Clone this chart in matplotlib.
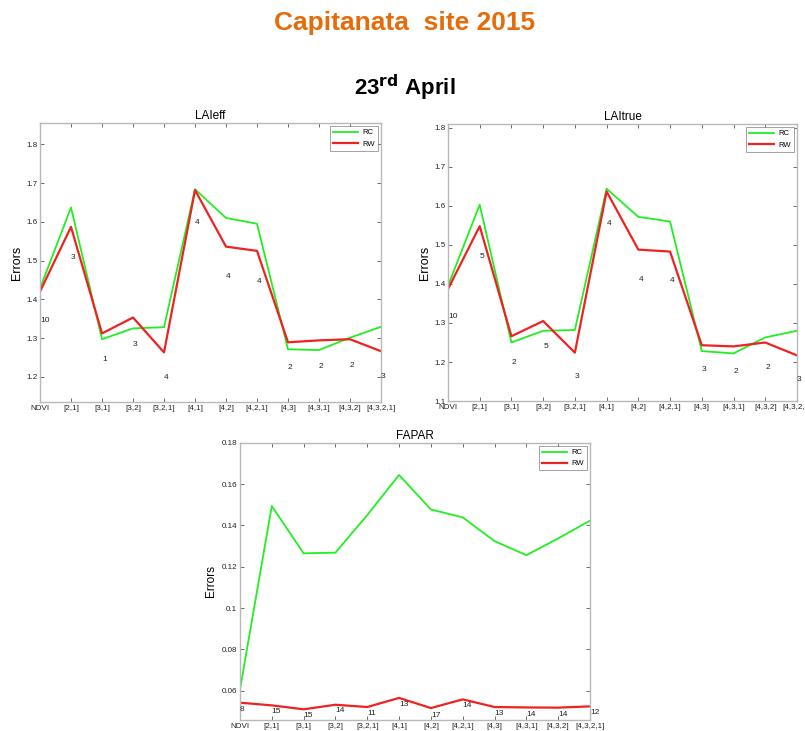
import matplotlib
matplotlib.use("Agg")
import matplotlib.pyplot as plt
import numpy as np

plt.rcParams['font.family'] = ['Liberation Sans', 'DejaVu Sans']

categories = ['NDVI', '[2,1]', '[3,1]', '[3,2]', '[3,2,1]', '[4,1]', '[4,2]',
              '[4,2,1]', '[4,3]', '[4,3,1]', '[4,3,2]', '[4,3,2,1]']

laieff_rc = [1.428, 1.637, 1.297, 1.325, 1.328, 1.684, 1.610, 1.595, 1.271, 1.269, 1.301, 1.329]
laieff_rw = [1.420, 1.587, 1.312, 1.353, 1.263, 1.682, 1.536, 1.525, 1.289, 1.294, 1.297, 1.266]
laieff_lbl = ['10', '3', '1', '3', '4', '4', '4', '4', '2', '2', '2', '3']
laieff_lbl_y = [1.346, 1.507, 1.245, 1.284, 1.198, 1.598, 1.458, 1.447, 1.223, 1.226, 1.230, 1.202]

laitrue_rc = [1.395, 1.603, 1.250, 1.280, 1.282, 1.644, 1.572, 1.560, 1.228, 1.222, 1.263, 1.280]
laitrue_rw = [1.387, 1.548, 1.266, 1.305, 1.224, 1.637, 1.488, 1.483, 1.243, 1.240, 1.250, 1.217]
laitrue_lbl = ['10', '5', '2', '5', '3', '4', '4', '4', '3', '2', '2', '3']
laitrue_lbl_y = [1.316, 1.470, 1.199, 1.239, 1.162, 1.554, 1.411, 1.408, 1.180, 1.176, 1.185, 1.156]

fapar_rc = [0.0606, 0.1494, 0.1265, 0.1268, 0.1450, 0.1644, 0.1477, 0.1439, 0.1324, 0.1256, 0.1337, 0.1423]
fapar_rw = [0.0542, 0.0529, 0.0510, 0.0532, 0.0521, 0.0565, 0.0516, 0.0558, 0.0521, 0.0519, 0.0518, 0.0524]
fapar_lbl = ['8', '15', '15', '14', '11', '13', '17', '14', '13', '14', '14', '12']
fapar_lbl_y = [0.0510, 0.0498, 0.0479, 0.0502, 0.0490, 0.0532, 0.0479, 0.0526, 0.0490, 0.0485, 0.0487, 0.0495]

GREEN = '#22ee22'
RED = '#ee2222'
SPINE = '#b8b8b8'

fig = plt.figure(figsize=(8.05, 7.31), dpi=100)
fig.text(0.503, 0.968, 'Capitanata  site 2015', ha='center', va='center',
         fontsize=19, fontweight='bold', color='#E46C0A')
fig.text(0.503, 0.880, r'23$^{\mathbf{rd}}$ April', ha='center', va='center',
         fontsize=16, fontweight='bold', color='black')


def panel(rect, title, rc, rw, lbl, lbl_y, ylim, yticks, ylsize, ylpad):
    ax = fig.add_axes(rect)
    x = np.arange(len(categories))
    ax.plot(x, rc, color=GREEN, lw=1.3, label='RC')
    ax.plot(x, rw, color=RED, lw=1.6, label='RW')
    for xi, t, yv in zip(x, lbl, lbl_y):
        ax.text(xi, yv, t, ha='left', va='center', fontsize=6, color='#222222')
    ax.set_xlim(0, len(categories) - 1)
    ax.set_ylim(*ylim)
    ax.set_xticks(x)
    ax.set_xticklabels(categories, fontsize=5.8, color='#222222')
    ax.set_yticks(yticks)
    ax.set_yticklabels([f'{v:g}' for v in yticks], fontsize=5.8, color='#222222')
    ax.tick_params(direction='in', length=3, width=0.6, color='#555555',
                   top=True, right=True, pad=2)
    for s in ax.spines.values():
        s.set_color(SPINE)
        s.set_linewidth(1.0)
    ax.set_title(title, fontsize=8.5, pad=3)
    ax.set_ylabel('Errors', fontsize=ylsize, labelpad=ylpad)
    leg = ax.legend(loc='upper right', fontsize=5.5, frameon=True, fancybox=False,
                    handlelength=3.2, borderpad=0.4, labelspacing=0.5,
                    handletextpad=0.6, borderaxespad=0.4)
    leg.get_frame().set_edgecolor('#777777')
    leg.get_frame().set_linewidth(0.6)
    return ax


ax1 = panel([0.0497, 0.4501, 0.4236, 0.3816], 'LAIeff', laieff_rc, laieff_rw,
            laieff_lbl, laieff_lbl_y, (1.135, 1.855),
            [1.2, 1.3, 1.4, 1.5, 1.6, 1.7, 1.8], 9, 2)
ax2 = panel([0.5565, 0.4514, 0.4335, 0.3790], 'LAItrue', laitrue_rc, laitrue_rw,
            laitrue_lbl, laitrue_lbl_y, (1.1, 1.81),
            [1.1, 1.2, 1.3, 1.4, 1.5, 1.6, 1.7, 1.8], 9, 2)
ax3 = panel([0.2981, 0.0150, 0.4348, 0.3793], 'FAPAR', fapar_rc, fapar_rw,
            fapar_lbl, fapar_lbl_y, (0.0458, 0.18),
            [0.06, 0.08, 0.1, 0.12, 0.14, 0.16, 0.18], 8.5, 3)

fig.savefig('out.png', dpi=100)
